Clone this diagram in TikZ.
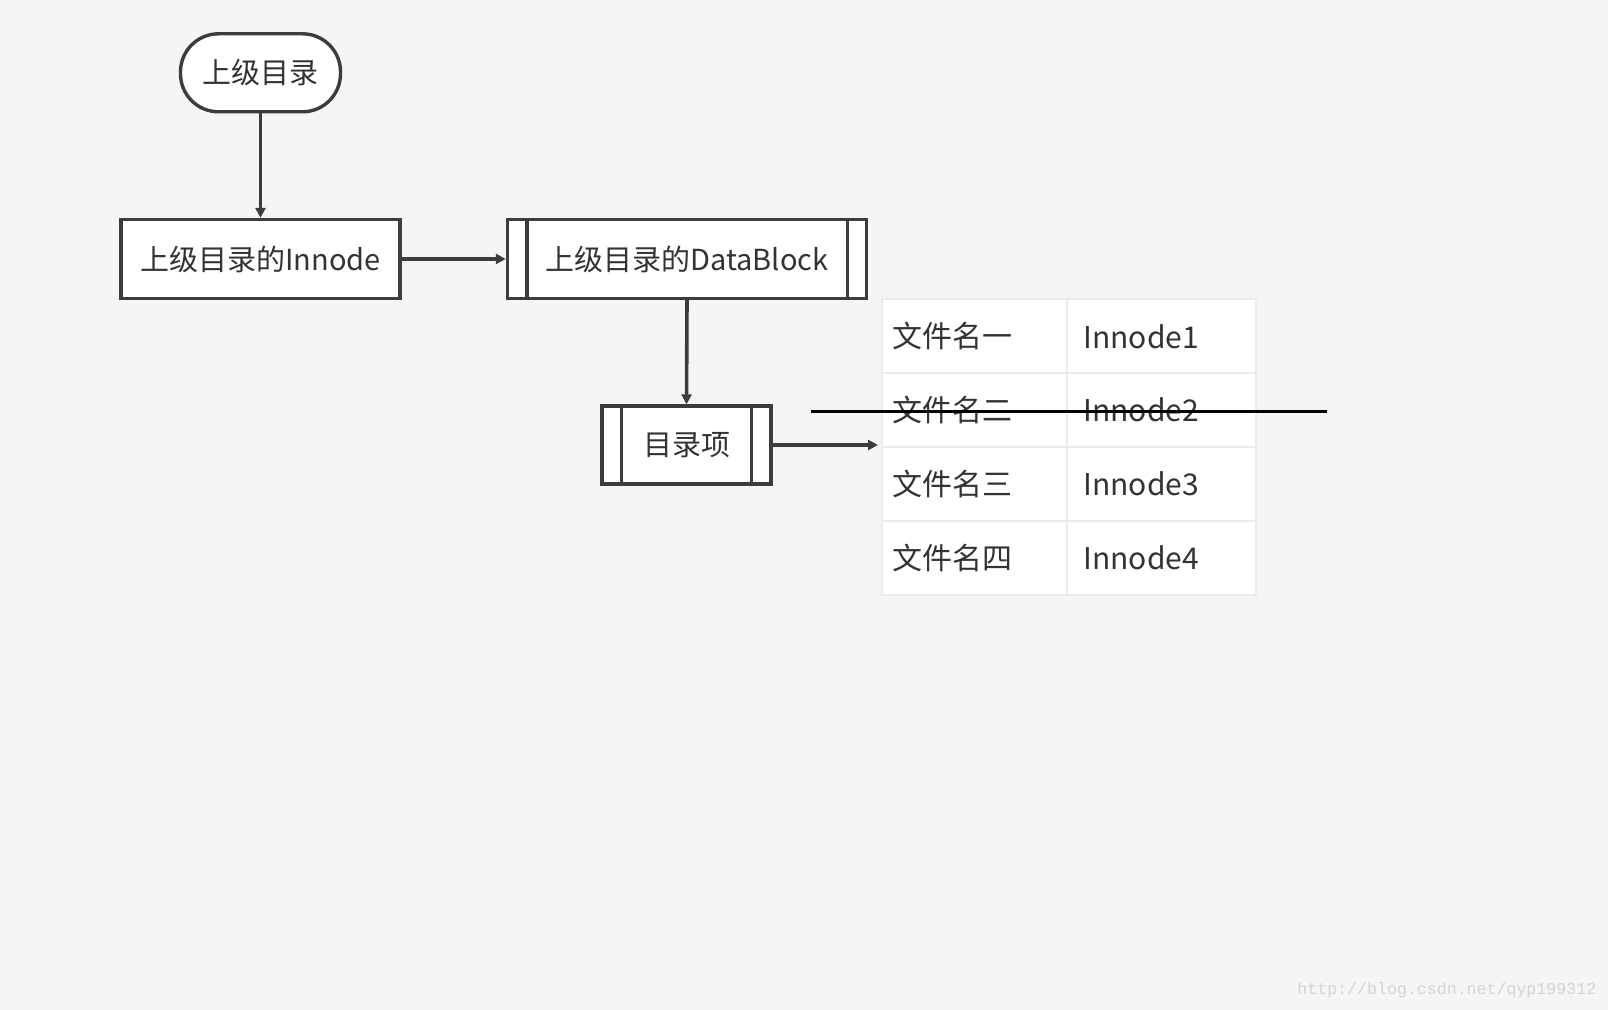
\documentclass[tikz,border=0pt]{standalone}
\usepackage{fontspec}
\setmainfont{Noto Sans CJK SC}
\setmonofont{Liberation Mono}
\usetikzlibrary{arrows.meta,calc}
\definecolor{bg}{HTML}{F5F5F5}
\definecolor{ln}{HTML}{3C3C3C}
\definecolor{tx}{HTML}{333333}
\definecolor{cellb}{HTML}{EBEBEB}
\definecolor{wmc}{HTML}{D4D4D4}
\begin{document}
\begin{tikzpicture}[x=0.5pt,y=-0.5pt,
  box/.style={draw=ln,line width=1.7pt,fill=white,text=tx,font=\fontsize{14.5}{16}\selectfont,minimum height=39.5pt,inner sep=0pt},
  conn/.style={draw=ln,line width=1.8pt,-{Triangle[length=5pt,width=5pt]}},
  cell/.style={draw=cellb,line width=1pt,fill=white,text=tx,font=\fontsize{15}{17}\selectfont,minimum height=36.95pt,inner ysep=0pt,align=left},
  inner line/.style={draw=ln,line width=1.7pt}]
\fill[bg] (0,0) rectangle (1608,1010);
\useasboundingbox (0,0) rectangle (1608,1010);

% table
\node[cell,inner xsep=5pt,text width=82.25pt] (c11) at (974.25,336.4) {文件名一};
\node[cell,inner xsep=8.5pt,text width=77.75pt] (c12) at (1161.25,336.4) {Innode1};
\node[cell,inner xsep=5pt,text width=82.25pt] (c21) at (974.25,410.25) {文件名二};
\node[cell,inner xsep=8.5pt,text width=77.75pt] (c22) at (1161.25,410.25) {Innode2};
\node[cell,inner xsep=5pt,text width=82.25pt] (c31) at (974.25,484.1) {文件名三};
\node[cell,inner xsep=8.5pt,text width=77.75pt] (c32) at (1161.25,484.1) {Innode3};
\node[cell,inner xsep=5pt,text width=82.25pt] (c41) at (974.25,558) {文件名四};
\node[cell,inner xsep=8.5pt,text width=77.75pt] (c42) at (1161.25,558) {Innode4};

% flowchart
\node[box,rounded corners=19pt,minimum width=80pt,minimum height=39pt] (top) at (260.5,72.8) {上级目录};
\node[box,minimum width=139.5pt] (ino) at (260.5,259) {上级目录的Innode};
\node[box,minimum width=179.5pt] (db) at (687,259) {上级目录的DataBlock};
\draw[inner line] ([xshift=10.5pt]db.north west) -- ([xshift=10.5pt]db.south west);
\draw[inner line] ([xshift=-10.5pt]db.north east) -- ([xshift=-10.5pt]db.south east);
\node[box,minimum width=84.5pt,minimum height=39pt] (mlx) at (686.5,445) {目录项};
\draw[inner line] ([xshift=10.5pt]mlx.north west) -- ([xshift=10.5pt]mlx.south west);
\draw[inner line] ([xshift=-10.5pt]mlx.north east) -- ([xshift=-10.5pt]mlx.south east);

\draw[conn] (top) -- (ino);
\draw[conn] (ino) -- (db);
\draw[conn] (db.south) -- (mlx.north);
\coordinate (tin) at ($(mlx.east -| c31.west)+(-1.5pt,0)$);
\draw[conn] (mlx.east) -- (tin);

% strike line
\coordinate (s1) at (811,411.5);
\coordinate (s2) at (1327,411.5);
\draw[black,line width=1.5pt] (s1) -- (s2);

% watermark
\node[font=\ttfamily\fontsize{8.3}{9}\selectfont,text=wmc,anchor=west,inner sep=0pt] (wm) at (1297,990) {http://blog.csdn.net/qyp199312};
\end{tikzpicture}
\end{document}
